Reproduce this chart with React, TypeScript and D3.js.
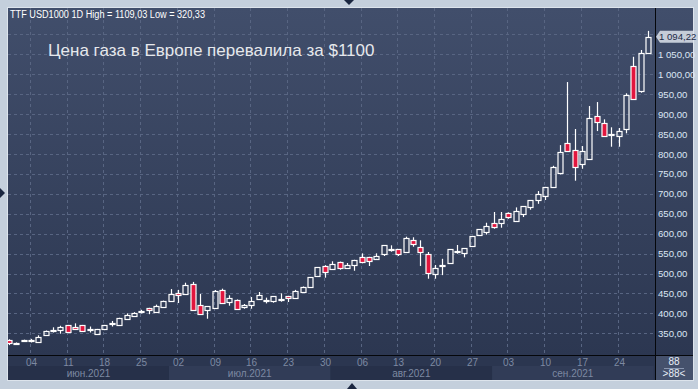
import * as d3 from "d3";

// trading days 01.06.2021 - 30.09.2021 (88 bars)
const dates = d3.timeDay
  .range(new Date(2021, 5, 1), new Date(2021, 9, 1))
  .filter((d) => d.getDay() !== 0 && d.getDay() !== 6);

const open = [
  333, 324, 331, 330, 329, 345, 357, 358, 370, 366, 370, 359, 349, 361, 374, 370, 387, 393, 406, 413, 403, 415,
  432, 451, 449, 474, 420, 408, 414, 458, 429.3, 432.8, 415.2, 421.8, 435.6, 433, 431.8, 436.5, 442.9, 439.5, 454.4, 467, 493, 519,
  512, 528.2, 514.9, 522, 540.7, 540.7, 537.2, 549, 561, 560.7, 554.8, 583.4, 566.5, 549, 499.6, 521, 525.7, 556, 552, 568.3, 597.7, 603.7,
  626.8, 627.5, 651, 632.5, 650.1, 667.7, 684.5, 695.3, 717.9, 753, 826.7, 809.2, 775.6, 788.2, 894.5, 877, 849.5, 845.9, 861.9, 1020, 958.8, 1052.6,
];
const high = [
  335, 327, 334, 336, 345, 357, 365, 369, 371, 375, 371, 367, 361, 371, 381, 389, 400, 403, 409, 414, 422, 432,
  461, 459, 477, 479, 448.6, 418, 458.7, 462, 445.4, 435, 423.5, 441, 453.6, 439.5, 443.6, 450.3, 444, 459, 467.5, 490.5, 516, 521,
  530.7, 530, 526.4, 534.5, 550.7, 542, 550.7, 571, 570.8, 561.5, 592.5, 591, 583.4, 554, 521.4, 537, 561, 571.6, 563.5, 594.5, 611.5, 627.5,
  654.4, 654.4, 653.6, 666, 669.4, 684.5, 707, 717.5, 770.5, 822.3, 980.6, 862.7, 820, 920.4, 930.4, 887, 867, 865.2, 952.3, 1044, 1061, 1109.03,
];
const low = [
  320.33, 321, 329, 327, 327, 344, 352, 349, 352, 361, 354, 352, 347, 358, 367, 369, 384, 391, 400, 398, 402, 414,
  431, 426, 448, 406, 397, 386.6, 413, 424, 419.3, 410, 411.7, 411.7, 434, 425, 426.8, 429.3, 428.5, 438, 453, 466, 492, 489.6,
  511, 509.6, 512, 507, 525.7, 518.9, 537, 544, 554.8, 544, 554, 567.3, 519, 487, 487, 496, 525, 549.7, 540.7, 568, 596, 597.7,
  612.5, 615, 637.6, 632, 641.8, 660.2, 675, 684.5, 717, 748.9, 805, 733, 763, 787, 857.6, 843.4, 818.3, 818.3, 851.9, 938, 953.8, 1052,
];
const close = [
  325, 326, 332, 332, 340, 356, 358, 367, 353, 362, 357, 360, 360, 370, 375, 388, 395, 401, 407, 408, 418, 431,
  449, 445, 471, 408.5, 399, 417.8, 455.4, 427, 437.8, 411.7, 421, 431, 446, 434, 443.6, 437.3, 437.8, 456, 467, 490.5, 516, 503.8,
  524.8, 514.9, 522.2, 534, 529.7, 532.2, 544, 570.8, 562, 549.7, 590, 574.8, 554.8, 500.6, 514, 522, 560.7, 557, 563, 594, 611, 620.5,
  615.9, 636, 641, 656, 669.4, 684.5, 699.6, 717, 767, 804, 806.7, 766.6, 806.7, 889.5, 879.5, 845.9, 850.5, 856.9, 947.2, 938.7, 1052.6, 1094.22,
];

const yTicks = [350, 400, 450, 500, 550, 600, 650, 700, 750, 800, 850, 900, 950, 1000, 1050];
const monthLabels = ["июн.2021", "июл.2021", "авг.2021", "сен.2021"];
const title = "Цена газа в Европе перевалила за $1100";
const barCount = "88";

const W = 698;
const H = 389;
const left = 8;
const top = 8;
const plotRight = 655;
const plotBottom = 355;
const axisRight = 693;
const axisBottom = 380;

const ru = d3.formatLocale({ decimal: ",", thousands: " ", grouping: [3], currency: ["", ""] });
const fmt = ru.format(",.2f");
const fmtPlain = ru.format(".2f");

export default function App() {
  const x = d3
    .scalePoint<Date>()
    .domain(dates)
    .range([9, 648]);
  const y = d3.scaleLinear().domain([350, 1050]).range([333.3, 54.4]);
  const step = x.step();
  const px = (d: Date) => Math.round(x(d) ?? 0) + 0.5;

  const fridays = dates.filter((d) => d.getDay() === 5);
  const months = d3.groups(dates, (d) => d.getMonth());
  const last = close[close.length - 1];
  const lastY = y(last);

  return (
    <svg width={W} height={H} style={{ position: "absolute", left: 0, top: 0, fontFamily: "'Liberation Sans', Arial, sans-serif" }}>
      <defs>
        <linearGradient id="bg" x1="0" x2="0" y1="0" y2="1">
          <stop offset="0%" stopColor="#414e6b" />
          <stop offset="100%" stopColor="#2c3751" />
        </linearGradient>
        <clipPath id="plot">
          <rect x={left} y={top} width={plotRight - left} height={plotBottom - top} />
        </clipPath>
      </defs>
      <rect width={W} height={H} fill="#c4cfdc" />
      <rect x={left - 1} y={top - 1} width={axisRight - left + 2} height={axisBottom - top + 2} fill="#dde4ec" />
      <rect x={left} y={top} width={axisRight - left} height={plotBottom - top} fill="url(#bg)" />
      <rect x={left} y={plotBottom} width={axisRight - left} height={axisBottom - plotBottom} fill="#2b3650" />

      {/* month bands */}
      {months.map(([m, ds], i) => {
        const x0 = Math.max(left, (x(ds[0]) ?? 0) - step / 2 + 2);
        const x1 = Math.min(plotRight, (x(ds[ds.length - 1]) ?? 0) + step / 2 + 2);
        return (
          <g key={m}>
            <rect x={x0} y={366} width={x1 - x0} height={axisBottom - 366} fill={i % 2 ? "#313c57" : "#263049"} />
            <text x={(x0 + x1) / 2} y={377} textAnchor="middle" fontSize={10} fill="#7d89a2">
              {monthLabels[i]}
            </text>
          </g>
        );
      })}

      {/* grid */}
      <g stroke="#586582" strokeDasharray="3,3" strokeWidth={1}>
        {yTicks.concat([1100]).map((t) => (
          <line key={t} x1={left} x2={plotRight} y1={Math.round(y(t)) + 0.5} y2={Math.round(y(t)) + 0.5} />
        ))}
        {fridays.map((d) => (
          <line key={+d} x1={px(d) - 1} x2={px(d) - 1} y1={top} y2={plotBottom} />
        ))}
      </g>

      {/* candles */}
      <g clipPath="url(#plot)">
        {dates.map((d, i) => {
          const cx = px(d);
          const o = open[i];
          const c = close[i];
          const up = c >= o;
          const yTop = Math.round(y(Math.max(o, c))) + 0.5;
          const yBot = Math.max(Math.round(y(Math.min(o, c))) + 0.5, yTop + 1);
          return (
            <g key={i} stroke="#ffffff" strokeWidth={1.2}>
              <line x1={cx} x2={cx} y1={y(high[i])} y2={yTop} />
              <line x1={cx} x2={cx} y1={yBot} y2={y(low[i])} />
              <rect x={cx - 2.5} y={yTop} width={5} height={yBot - yTop} fill={up ? "none" : "#e2163e"} />
            </g>
          );
        })}
      </g>

      {/* axis lines */}
      <line x1={left} x2={axisRight} y1={plotBottom + 0.5} y2={plotBottom + 0.5} stroke="#05070b" />
      <line x1={plotRight + 0.5} x2={plotRight + 0.5} y1={top} y2={axisBottom} stroke="#05070b" />

      {/* y labels */}
      {yTicks.map((t) => (
        <text key={t} x={658} y={y(t) + 3.5} fontSize={9.6} fill="#dce6f4">
          {fmt(t)}
        </text>
      ))}

      {/* last price tag */}
      <path
        d={`M${plotRight + 1},${lastY} L${plotRight + 5},${lastY - 6} H${axisRight} V${lastY + 6} H${plotRight + 5} Z`}
        fill="#c5ccd8"
      />
      <text x={659} y={lastY + 3.5} fontSize={9.6} fill="#1c2a47">
        {fmt(last)}
      </text>

      {/* x labels */}
      {fridays.map((d) => (
        <text key={+d} x={px(d)} y={366} textAnchor="middle" fontSize={10} fill="#7d89a2">
          {d3.timeFormat("%d")(d)}
        </text>
      ))}

      {/* bar count box */}
      <rect x={plotRight + 1} y={plotBottom + 1} width={axisRight - plotRight - 1} height={axisBottom - plotBottom - 1} fill="#45516c" />
      <text x={674} y={365} textAnchor="middle" fontSize={10} fill="#e8eef7">
        {barCount}
      </text>
      <line x1={664} x2={684} y1={368.5} y2={368.5} stroke="#8a97b0" />
      <text x={674} y={377} textAnchor="middle" fontSize={10} fill="#e8eef7">
        {`>${barCount}<`}
      </text>

      {/* header + title */}
      <text x={10} y={17.5} fontSize={10} fill="#ffffff" textLength={195} lengthAdjust="spacingAndGlyphs">
        {`TTF USD1000 1D High = ${fmtPlain(d3.max(high) ?? 0)} Low = ${fmtPlain(d3.min(low) ?? 0)}`}
      </text>
      <text x={48} y={55.5} fontSize={17} fill="#e6e8ec">
        {title}
      </text>

      {/* frame markers */}
      <path d="M344,0 L354,0 L349,5 Z" fill="#1a2640" />
      <path d="M0,188 L5,193 L0,198 Z" fill="#1a2640" />
      <path d="M347,389 L357,389 L352,383 Z" fill="#1a2640" />
    </svg>
  );
}
